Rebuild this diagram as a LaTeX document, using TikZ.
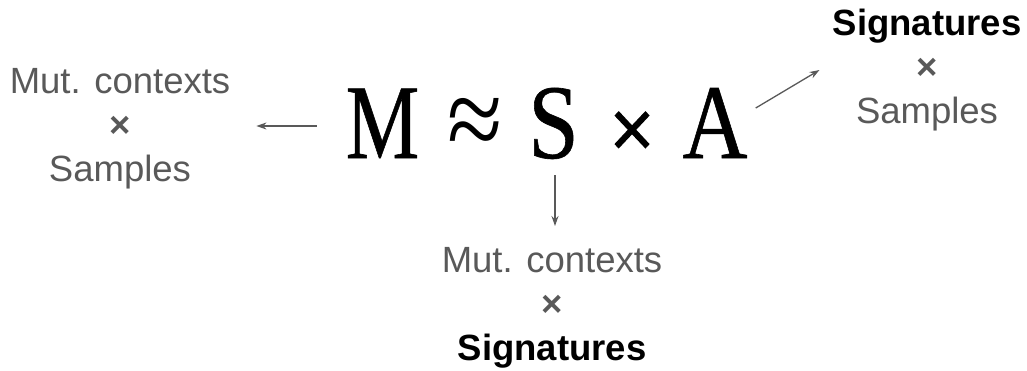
\documentclass[tikz,border=0pt]{standalone}
\usepackage{fontspec}
\usepackage{graphicx}
\setmainfont{Liberation Sans}
\newfontface\formfont[FakeBold=0.6]{Liberation Serif}
\newfontface\formthin{Liberation Serif}
\newfontface\formheavy[FakeBold=2.5]{Liberation Serif}
\usetikzlibrary{arrows.meta,calc}
\definecolor{txtgray}{RGB}{89,89,89}
\begin{document}
\begin{tikzpicture}[x=1pt,y=-1pt,
  lbl/.style={font=\fontsize{36.5}{44}\selectfont, text=txtgray, align=center, inner sep=0pt, anchor=base},
  sym/.style={font=\formfont\fontsize{106}{106}\selectfont, inner sep=0pt, anchor=base},
  arr/.style={draw=txtgray, line width=1.3pt, -{Stealth[length=10pt,width=7pt]}}]
\useasboundingbox (0,0) rectangle (1027,370);
% formula
\node[sym] (M) at (382.5,158) {\scalebox{0.78}[1]{M}};
\node[sym] (approx) at (475.5,158) {\formthin\scalebox{0.95}[1.1]{≈}};
\node[sym] (S) at (553.5,158) {\scalebox{0.86}[1]{S}};
\node[sym] (times) at (632,158) {\formheavy\scalebox{0.75}[0.8]{×}};
\node[sym] (A) at (715,158) {\scalebox{0.85}[1]{A}};
% labels (base anchor = baseline of last line)
\node[lbl] (left) at (120,181) {Mut. contexts\\{\bfseries ×}\\Samples};
\node[lbl] (right) at (927,123) {\textcolor{black}{\bfseries Signatures}\\{\bfseries ×}\\Samples};
\node[lbl] (bot) at (552,360) {Mut. contexts\\{\bfseries ×}\\\textcolor{black}{\bfseries Signatures}};
% arrows
\draw[arr] ($(M.base west)+(-29,-32)$) -- ($(left.east |- M.base)+(26,-32)$);
\draw[arr] ($(S.base)+(1.5,17)$) -- ($(S.base |- bot.base)+(1.5,-134)$);
\draw[arr] ($(A.base east)+(8,-50)$) -- ($(right.base west)+(-13,-53)$);
\end{tikzpicture}
\end{document}
